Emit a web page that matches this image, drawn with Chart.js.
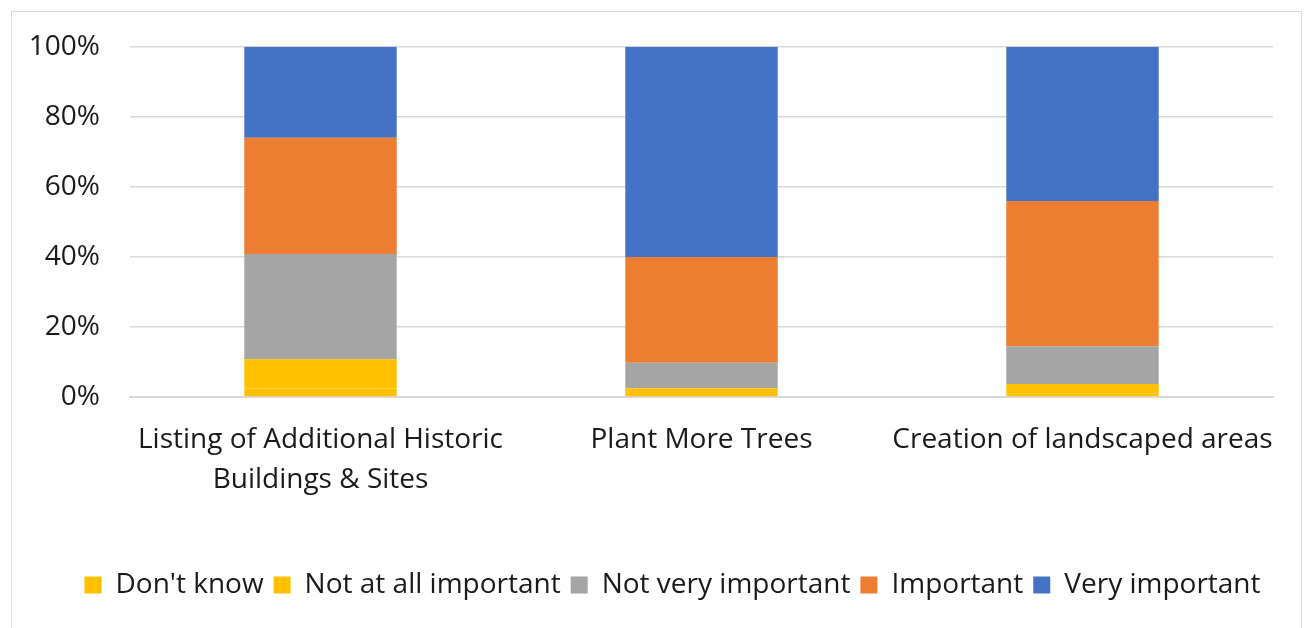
<!DOCTYPE html>
<html lang="en">
<head>
    <meta charset="UTF-8">
    <title>Importance ratings</title>
    <script src="https://cdn.jsdelivr.net/npm/chart.js"></script>
    <style>
        body {
            margin: 0;
            padding: 0;
            background: #ffffff;
            overflow: hidden;
        }

        .frame {
            position: absolute;
            left: 11px;
            top: 11px;
            width: 1289px;
            height: 640px;
            border: 1.5px solid #d9d9d9;
        }

        #grafico {
            position: absolute;
            left: 0;
            top: 0;
        }
    </style>
</head>
<body>

    <div class="frame"></div>
    <canvas id="grafico" width="1306" height="628"></canvas>

    <script>
        // data (percent of answers)
        const categorias = [
            ["Listing of Additional Historic", "Buildings & Sites"],
            "Plant More Trees",
            "Creation of landscaped areas"
        ];
        const dontKnow = [2.4, 0.6, 1.0];
        const notAtAll = [8.4, 1.9, 2.7];
        const notVery = [30.0, 7.3, 10.8];
        const important = [33.2, 30.2, 41.5];
        const veryImportant = [26.0, 60.0, 44.0];
        const yTicks = [0, 20, 40, 60, 80, 100];

        const fuente = "'Open Sans', sans-serif";

        function serie(label, data, color) {
            return {
                label: label,
                data: data,
                backgroundColor: color,
                borderWidth: 0,
                categoryPercentage: 0.8,
                barPercentage: 0.5
            };
        }

        // the legend in the original sits a little right of centre
        const moverLeyenda = {
            id: 'moverLeyenda',
            afterLayout(chart) {
                if (chart.legend) {
                    chart.legend.left += 36;
                    chart.legend.right += 36;
                }
            }
        };

        const ctx = document.getElementById("grafico").getContext("2d");
        new Chart(ctx, {
            type: 'bar',
            data: {
                labels: categorias,
                datasets: [
                    serie("Don't know", dontKnow, '#FFC000'),
                    serie('Not at all important', notAtAll, '#FFC000'),
                    serie('Not very important', notVery, '#A5A5A5'),
                    serie('Important', important, '#ED7D31'),
                    serie('Very important', veryImportant, '#4472C4')
                ]
            },
            plugins: [moverLeyenda],
            options: {
                responsive: false,
                animation: false,
                layout: {
                    padding: { top: 45, right: 33, bottom: 19, left: 0 }
                },
                plugins: {
                    tooltip: { enabled: false },
                    legend: {
                        position: 'bottom',
                        labels: {
                            color: '#1a1a1a',
                            font: { family: fuente, size: 28 },
                            boxWidth: 17,
                            boxHeight: 17,
                            padding: 10
                        }
                    }
                },
                scales: {
                    x: {
                        stacked: true,
                        grid: { display: false },
                        border: { color: '#d9d9d9', width: 2 },
                        ticks: {
                            color: '#1a1a1a',
                            font: { family: fuente, size: 28, lineHeight: 1.43 },
                            padding: 15,
                            maxRotation: 0,
                            autoSkip: false
                        },
                        afterFit: function (scale) { scale.height = 164; }
                    },
                    y: {
                        stacked: true,
                        min: 0,
                        max: 100,
                        afterBuildTicks: function (scale) {
                            scale.ticks = yTicks.map(v => ({ value: v }));
                        },
                        grid: { color: '#d9d9d9', lineWidth: 1.5, drawTicks: false },
                        border: { display: false },
                        ticks: {
                            color: '#1a1a1a',
                            font: { family: fuente, size: 28 },
                            padding: 30,
                            callback: v => v + '%'
                        },
                        afterFit: function (scale) { scale.width = 130; }
                    }
                }
            }
        });
    </script>
</body>
</html>
